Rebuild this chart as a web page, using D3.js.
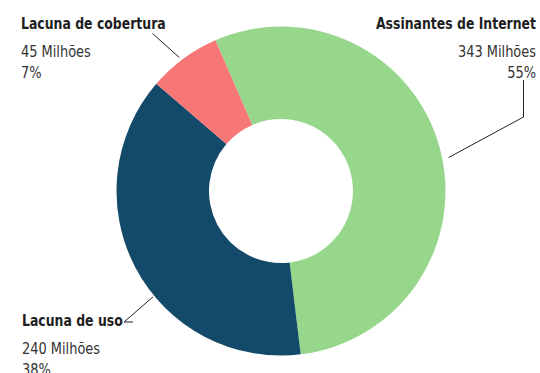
<!DOCTYPE html>
<html><head><meta charset="utf-8">
<script src="https://cdn.jsdelivr.net/npm/d3@7"></script>
<style>
html,body{margin:0;padding:0;background:#fff;}
svg{display:block;}
text{font-family:"DejaVu Sans Condensed","DejaVu Sans",sans-serif;}
</style></head>
<body>
<svg id="c" width="540" height="373"></svg>
<script>
const categories = ["Assinantes de Internet", "Lacuna de uso", "Lacuna de cobertura"];
const values = [343, 240, 45];
const colors = ["#96d78b", "#144a69", "#f77777"];

const W = 540, H = 373, cx = 281, cy = 191, R = 164.5, r0 = 72;
const svg = d3.select("#c");
const g = svg.append("g").attr("transform", `translate(${cx},${cy})`);
const total = d3.sum(values);
const start = -23.5 * Math.PI / 180;
const pie = d3.pie().sort(null).startAngle(start).endAngle(start + 2 * Math.PI);
const arcs = pie(values);
const arc = d3.arc().innerRadius(r0).outerRadius(R);
g.selectAll("path").data(arcs).join("path")
  .attr("d", arc).attr("fill", (d, i) => colors[i]);

// label layout (angle in degrees for leader endpoint on ring, text anchor positions)
const layout = [
  {ang: 78.7, rr: 171, pts: [[523.5, 80], [523.5, 117]], tx: 536, ty: 29, anchor: "end"},
  {ang: 230.4, rr: 166, pts: [[133, 322], [124, 322]], tx: 22, ty: 326, anchor: "start"},
  {ang: -37.3, rr: 168, pts: [[152.5, 33.5]], tx: 21, ty: 29, anchor: "start"}
];
const line = d3.line();
const addText = (x, y, anchor, sx, size, weight, fill, str) =>
  svg.append("text").attr("transform", `translate(${x},${y}) scale(${sx},1)`)
    .attr("text-anchor", anchor).attr("font-size", size).attr("font-weight", weight)
    .attr("fill", fill).text(str);
layout.forEach((L, i) => {
  const a = L.ang * Math.PI / 180;
  const p0 = [cx + L.rr * Math.sin(a), cy - L.rr * Math.cos(a)];
  const pts = [p0].concat(L.pts.slice().reverse());
  svg.append("path").attr("d", line(pts)).attr("fill", "none")
    .attr("stroke", "#222").attr("stroke-width", 1);
  addText(L.tx, L.ty, L.anchor, 0.84, 16.5, "bold", "#1e1e1e", categories[i]);
  addText(L.tx, L.ty + 28, L.anchor, 0.9, 16, "normal", "#333", values[i] + " Milhões");
  addText(L.tx, L.ty + 48.5, L.anchor, 0.9, 16, "normal", "#333",
    Math.round(values[i] / total * 100) + "%");
});
</script>
</body></html>
